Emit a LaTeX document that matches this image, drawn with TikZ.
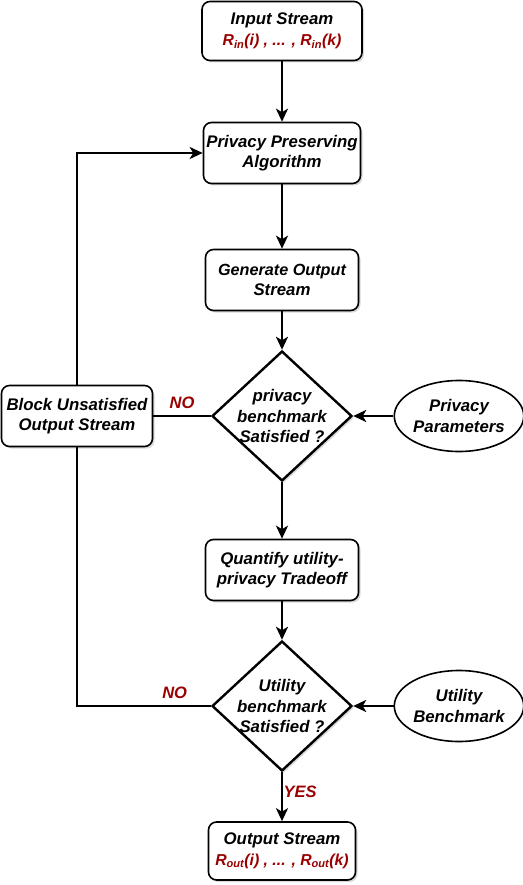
\documentclass[tikz,border=0pt]{standalone}
\usepackage{fontspec}
\setmainfont{Liberation Sans}
\usepackage{xcolor}
\usetikzlibrary{arrows.meta,positioning,shapes.geometric,shadows}
\definecolor{decred}{HTML}{990000}

\begin{document}
\begin{tikzpicture}[x=1pt,y=-1pt,
  font=\fontsize{16.8}{20.5}\selectfont\bfseries\itshape,
  every node/.append style={align=center},
  stepbox/.style={rounded corners=8pt,draw,line width=1.6pt,fill=white,
    inner sep=1pt,drop shadow={shadow xshift=2pt,shadow yshift=-2pt,opacity=0.3}},
  decision/.style={diamond,draw,line width=2.4pt,fill=white,inner sep=0pt,
    minimum width=140pt,minimum height=130pt,
    drop shadow={shadow xshift=2pt,shadow yshift=-2pt,opacity=0.3}},
  source/.style={ellipse,draw,line width=1.6pt,fill=white,
    minimum width=119pt,minimum height=71pt,inner sep=0pt},
  flow/.style={line width=2.6pt,-{Stealth[length=13pt,width=12pt,inset=3.5pt]}},
  link/.style={line width=2.6pt},
  answer/.style={text=decred,font=\fontsize{16.5}{18}\selectfont\bfseries\itshape}]
  \useasboundingbox (0,0) rectangle (522,885);

  % main column
  \node[stepbox,minimum width=160pt,minimum height=59pt] (input) at (282,31)
    {Input Stream\\\textcolor{decred}{\fontsize{15.8}{20.5}\selectfont R\textsubscript{in}(i) , ... , R\textsubscript{in}(k)}};
  \node[stepbox,minimum width=157pt,minimum height=61pt] (ppa) at (282,153)
    {Privacy Preserving\\Algorithm};
  \node[stepbox,minimum width=153pt,minimum height=61pt] (gen) at (282,280)
    {\fontsize{16.2}{20.5}\selectfont Generate Output\\Stream};
  \node[decision] (pb) at (282,416) {};
  \node (pbtext) at (pb.center) {privacy\\benchmark\\Satisfied ?};
  \node[stepbox,minimum width=153pt,minimum height=61pt] (quant) at (282,570)
    {Quantify utility-\\privacy Tradeoff};
  \node[decision] (ub) at (282,706) {};
  \node (ubtext) at (ub.center) {Utility\\benchmark\\Satisfied ?};
  \node[stepbox,minimum width=147pt,minimum height=58pt] (out) at (282,851)
    {Output Stream\\\textcolor{decred}{\fontsize{15.8}{20.5}\selectfont R\textsubscript{out}(i) , ... , R\textsubscript{out}(k)}};

  % side nodes
  \node[stepbox,minimum width=151pt,minimum height=61pt] (block) at (77,416)
    {Block Unsatisfied\\Output Stream};
  \node[source] (pparam) at (459,416) {Privacy\\Parameters};
  \node[source] (ubench) at (459,706) {Utility\\Benchmark};

  % connectors
  \draw[flow] (input) -- (ppa);
  \draw[flow] (ppa) -- (gen);
  \draw[flow] (gen) -- (pb);
  \draw[flow] (pparam) -- (pb);
  \draw[flow] (pb) -- (quant);
  \draw[flow] (quant) -- (ub);
  \draw[flow] (ubench) -- (ub);
  \draw[flow] (ub) -- node[answer,right,pos=0.4,xshift=-3pt] {YES} (out);
  \draw[link] (pb.west) -- node[answer,above=3pt] {NO} (block.east);
  \draw[flow] (block.north) |- (ppa.west);
  \draw[link] (ub.west) -- node[answer,above=3pt,pos=0.27] {NO} (ub.west -| block.south) -- (block.south);
\end{tikzpicture}
\end{document}
